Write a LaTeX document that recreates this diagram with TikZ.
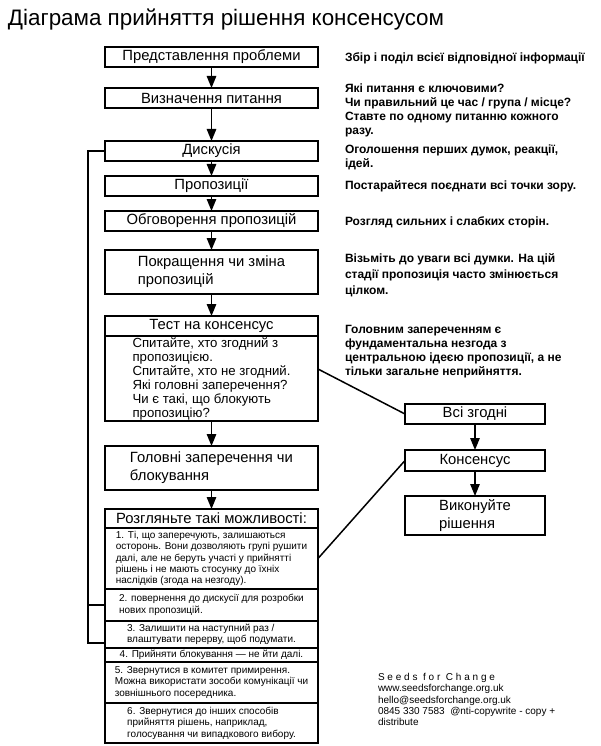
\documentclass[tikz,border=0pt]{standalone}
\usepackage{fontspec}
\setmainfont{Liberation Sans}
\usetikzlibrary{arrows.meta}
\newcommand{\dgMain}{\fontsize{14.8}{18}\selectfont}
\newcommand{\dgBody}{\fontsize{13.2}{14}\selectfont}
\newcommand{\dgSub}{\fontsize{10}{11.4}\selectfont}
\newcommand{\dgNote}{\fontsize{12}{14}\selectfont\bfseries}
\newcommand{\dgFoot}{\fontsize{10}{11.4}\selectfont}
\begin{document}
\begin{tikzpicture}[x=1pt,y=-1pt,
  every node/.style={inner sep=0pt, outer sep=0pt},
  box/.style={draw, line width=2pt, minimum width=213pt, align=left, font=\dgMain},
  rbox/.style={draw, line width=2pt, minimum width=140pt, align=left, font=\dgMain},
  sub/.style={draw, line width=1.7pt, minimum width=213pt, align=left, font=\dgSub},
  note/.style={anchor=north west, align=left, font=\dgNote, execute at begin node=\strut},
  arr/.style={line width=1.3pt, -{Triangle[width=9.5pt,length=12pt]}},
  conn/.style={line width=1.5pt},
  loopline/.style={line width=2pt},
]
\useasboundingbox (0,0) rectangle (600,746);
\fill[white] (0,0) rectangle (600,746);

\node[anchor=base west, font=\fontsize{22.4}{26}\selectfont] (title) at (8,26) {Діаграма прийняття рішення консенсусом};

% main column
\node[box, minimum height=20pt] (b1) at (211.5,57) {Представлення проблеми};
\node[box, minimum height=20pt] (b2) at (211.5,98) {Визначення питання};
\node[box, minimum height=20pt] (b3) at (211.5,151) {Дискусія};
\node[box, minimum height=20pt] (b4) at (211.5,186) {Пропозиції};
\node[box, minimum height=20pt] (b5) at (211.5,221) {Обговорення пропозицій};
\node[box, minimum height=44pt] (b6) at (211.5,272) {Покращення чи зміна\\пропозицій};
\node[box, minimum height=20pt] (th) at (211.5,326) {Тест на консенсус};
\node[box, minimum height=85pt, font=\dgBody] (tb) at (211.5,378.5) {Спитайте, хто згодний з\\пропозицією.\\Спитайте, хто не згодний.\\Які головні заперечення?\\Чи є такі, що блокують\\пропозицію?};
\node[box, minimum height=44pt] (b8) at (211.5,468) {Головні заперечення чи\\блокування};
\node[box, minimum height=19pt] (rh) at (211.5,518.5) {Розгляньте такі можливості:};
\node[sub, minimum height=61pt] (s1) at (211.5,558.5) {1. Ті, що заперечують, залишаються\\осторонь. Вони дозволяють групі рушити\\далі, але не беруть участі у прийнятті\\рішень і не мають стосунку до їхніх\\наслідків (згода на незгоду).};
\node[sub, minimum height=32pt] (s2) at (211.5,605) {2. повернення до дискусії для розробки\\нових пропозицій.};
\node[sub, minimum height=27pt] (s3) at (211.5,634.5) {3. Залишити на наступний раз /\\влаштувати перерву, щоб подумати.};
\node[sub, minimum height=14pt] (s4) at (211.5,655) {4. Прийняти блокування — не йти далі.};
\node[sub, minimum height=41pt] (s5) at (211.5,682.5) {5. Звернутися в комитет примирення.\\Можна використати зособи комунікації чи\\зовнішнього посередника.};
\node[sub, minimum height=40pt] (s6) at (211.5,723) {6. Звернутися до інших способів\\прийняття рішень, наприклад,\\голосування чи випадкового вибору.};

% right column boxes
\node[rbox, minimum height=20pt] (vz) at (475,414) {Всі згодні};
\node[rbox, minimum height=21pt] (ks) at (475,460.5) {Консенсус};
\node[rbox, minimum height=39pt] (vr) at (475,515.5) {Виконуйте\\рішення};

% arrows
\draw[arr] (b1) -- (b2);
\draw[arr] (b2) -- (b3);
\draw[arr] (b3) -- (b4);
\draw[arr] (b4) -- (b5);
\draw[arr] (b5) -- (b6);
\draw[arr] (b6) -- (th);
\draw[arr] (tb) -- (b8);
\draw[arr] (b8) -- (rh);
\draw[arr] (vz) -- (ks);
\draw[arr] (ks) -- (vr);

% diagonal connectors
\draw[conn] ([yshift=9.5pt]tb.east) -- (vz.west);
\draw[conn] (ks.west) -- (s1.east);

% loop
\coordinate (loopx) at (88,0);
\coordinate (s3l) at ([yshift=-8pt]s3.west);
\draw[loopline] (b3.west) -- (b3.west -| loopx) -- (s3l -| loopx) -- (s3l);
\draw[loopline] (s2.west -| loopx) -- (s2.west);

% notes
\node[note] (n1) at (345,51.5) {Збір і поділ всієї відповідної інформації};
\node[note] (n2) at (345,83.5) {Які питання є ключовими?\\Чи правильний це час / група / місце?\\Ставте по одному питанню кожного\\разу.};
\node[note] (n3) at (345,145) {Оголошення перших думок, реакції,\\ідей.};
\node[note] (n4) at (345,180) {Постарайтеся поєднати всі точки зору.};
\node[note] (n5) at (345,215.5) {Розгляд сильних і слабких сторін.};
\node[note, font=\fontsize{12}{16}\selectfont\bfseries] (n6) at (345,254) {Візьміть до уваги всі думки. На цій\\стадії пропозиція часто змінюється\\цілком.};
\node[note] (n7) at (345,325.5) {Головним запереченням є\\фундаментальна незгода з\\центральною ідеєю пропозиції, а не\\тільки загальне неприйняття.};

% footer
\node[anchor=north west, align=left, font=\dgFoot, execute at begin node=\strut] (ft) at (378,673) {{\addfontfeature{LetterSpace=28}Seeds for Change}\\www.seedsforchange.org.uk\\hello@seedsforchange.org.uk\\0845 330 7583\ \ @nti-copywrite - copy +\\distribute};
\end{tikzpicture}
\end{document}
